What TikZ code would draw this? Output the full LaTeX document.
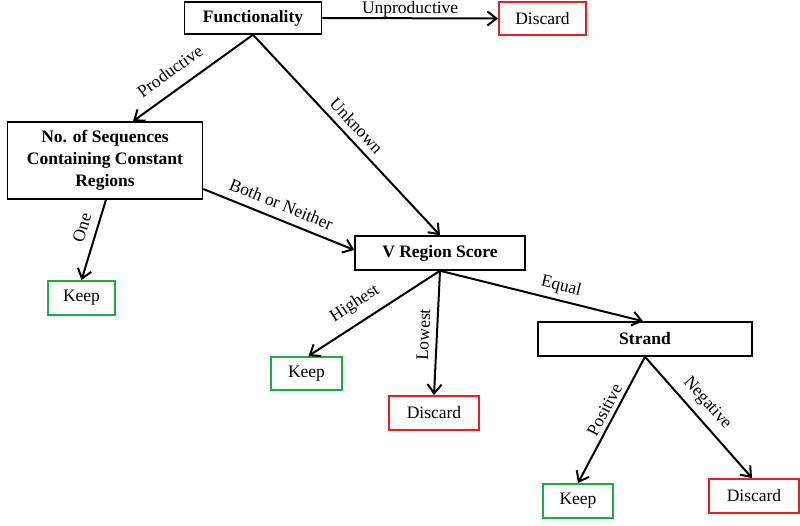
\documentclass[tikz,border=0pt]{standalone}
\usepackage{fontspec}
\setmainfont{Liberation Serif}
\usetikzlibrary{arrows.meta,calc}
\definecolor{kred}{RGB}{232,30,38}
\definecolor{kgreen}{RGB}{30,170,70}
\begin{document}
\begin{tikzpicture}[x=1pt,y=-1pt,
  box/.style={draw, line width=1.5pt, inner sep=0pt, align=center, font=\fontsize{17.5}{22}\selectfont},
  dbox/.style={box, font=\bfseries\fontsize{17.5}{22}\selectfont},
  keepbox/.style={box, draw=kgreen, line width=2pt},
  discbox/.style={box, draw=kred, line width=2pt},
  conn/.style={line width=2pt, -{Straight Barb[length=9pt,width=14pt,line width=2pt]}},
  lbl/.style={sloped, inner sep=0pt, font=\fontsize{17.5}{22}\selectfont}]
\useasboundingbox (0,0) rectangle (800,526);

\node[dbox, minimum width=137pt, minimum height=32pt] (func) at (253,18) {Functionality};
\node[discbox, minimum width=87pt, minimum height=33pt] (disc1) at (542.5,18.5) {Discard};
\node[dbox, minimum width=195pt, minimum height=77pt] (seq) at (105,160.5) {No. of Sequences\\Containing Constant\\Regions};
\node[keepbox, minimum width=67pt, minimum height=34pt] (keep1) at (81.5,298) {Keep};
\node[dbox, minimum width=170pt, minimum height=34pt] (vrs) at (440,253) {V Region Score};
\node[keepbox, minimum width=71pt, minimum height=33pt] (keep2) at (306.5,373.5) {Keep};
\node[discbox, minimum width=90pt, minimum height=34pt] (disc2) at (434,413) {Discard};
\node[dbox, minimum width=214pt, minimum height=34pt] (strand) at (645,339) {Strand};
\node[keepbox, minimum width=70pt, minimum height=34pt] (keep3) at (578,501) {Keep};
\node[discbox, minimum width=90pt, minimum height=34pt] (disc3) at (754,496) {Discard};

\draw[conn] (func.east) -- (disc1.west) node[lbl, midway, above=0pt] {Unproductive};
\draw[conn] (func.south) -- ($(seq.north)+(28,0)$) node[lbl, pos=0.6, above=12pt] {Productive};
\draw[conn] (func.south) -- (vrs.north) node[lbl, pos=0.5, above=6.5pt] {Unknown};
\draw[conn] ($(seq.east)+(0,28.5)$) -- ($(vrs.west)+(0,-3)$) node[lbl, pos=0.48, above=8pt] {Both or Neither};
\draw[conn] ($(seq.south)+(1,0)$) -- (keep1.north) node[lbl, pos=0.4, above=8pt] {One};
\draw[conn] (vrs.south) -- ($(keep2.north)+(2,0)$) node[lbl, pos=0.57, above=9.5pt] {Highest};
\draw[conn] (vrs.south) -- (disc2.north) node[lbl, pos=0.52, above=6.5pt] {Lowest};
\draw[conn] (vrs.south) -- ($(strand.north)+(-2,0)$) node[lbl, pos=0.58, above=5pt] {Equal};
\draw[conn] (strand.south) -- (keep3.north) node[lbl, pos=0.46, above=4pt] {Positive};
\draw[conn] (strand.south) -- ($(disc3.north)+(-2,0)$) node[lbl, pos=0.47, above=7pt] {Negative};
\end{tikzpicture}
\end{document}
